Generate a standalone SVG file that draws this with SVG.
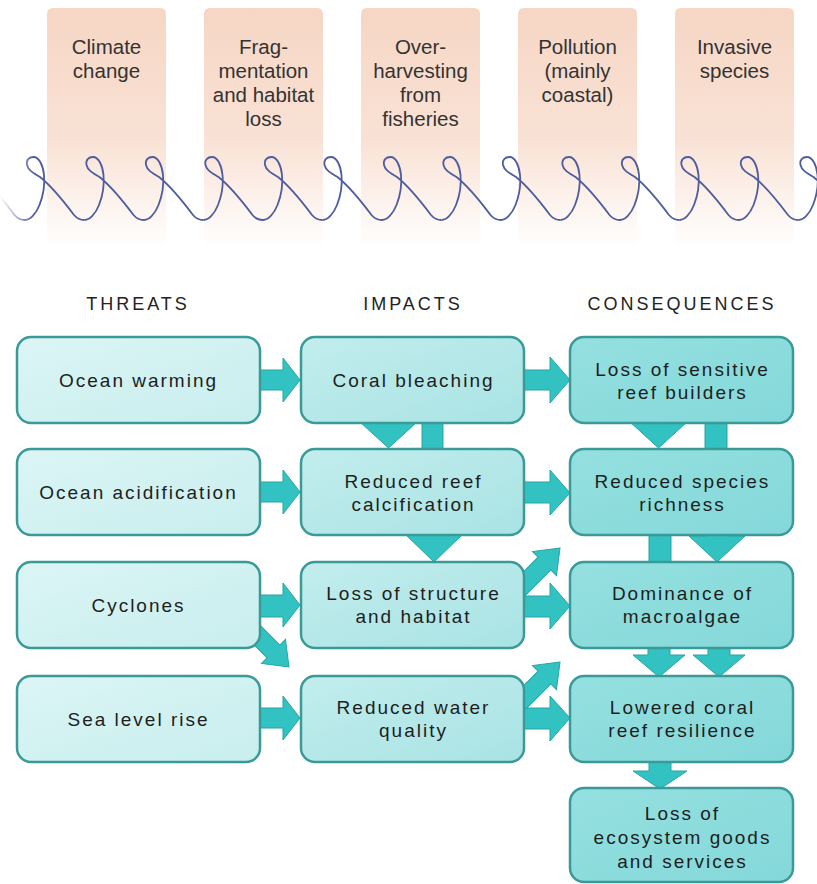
<svg xmlns="http://www.w3.org/2000/svg" xmlns:xlink="http://www.w3.org/1999/xlink" width="817" height="884" viewBox="0 0 817 884">
<style>
.top{font-family:"Liberation Sans",Arial,sans-serif;font-size:20.5px;fill:#333;text-anchor:middle}
.hdr{font-family:"Liberation Sans",Arial,sans-serif;font-size:18px;letter-spacing:3px;fill:#222;text-anchor:middle}
.t{font-family:"Liberation Sans",Arial,sans-serif;font-size:19px;letter-spacing:2px;fill:#1e1e1e;text-anchor:middle}
.thr{fill:url(#gT);stroke:#3a9a98;stroke-width:2.5}
.imp{fill:url(#gI);stroke:#3a9a98;stroke-width:2.5}
.con{fill:url(#gC);stroke:#3a9a98;stroke-width:2.5}
.arr{fill:#33c2c2;stroke:#27a5a5;stroke-width:1}
.peach{fill:url(#gP)}
</style>
<defs>
<linearGradient id="gP" x1="0" y1="0" x2="0" y2="1">
<stop offset="0" stop-color="#f6d6c4"/>
<stop offset="0.55" stop-color="#f9e2d5"/>
<stop offset="1" stop-color="#ffffff"/>
</linearGradient>
<linearGradient id="gT" x1="0" y1="0" x2="1" y2="1">
<stop offset="0" stop-color="#dcf5f5"/>
<stop offset="1" stop-color="#c8eeee"/>
</linearGradient>
<linearGradient id="gI" x1="0" y1="0" x2="1" y2="1">
<stop offset="0" stop-color="#c2eded"/>
<stop offset="1" stop-color="#a9e3e4"/>
</linearGradient>
<linearGradient id="gC" x1="0" y1="0" x2="1" y2="1">
<stop offset="0" stop-color="#95e0e0"/>
<stop offset="1" stop-color="#84d8d9"/>
</linearGradient>
<linearGradient id="fadeL" x1="0" y1="0" x2="1" y2="0">
<stop offset="0" stop-color="#fff" stop-opacity="1"/>
<stop offset="1" stop-color="#fff" stop-opacity="0"/>
</linearGradient>
<path id="coil" d="M-8,63 C-3,63 3,57 6.5,48 C10,39 12,28 11,18 C10,8 6,0 0.5,0 C-4,0 -7,3 -6,8 C-5,13 0,16 7,20 C17,28 32,46 41,58 C44,61.5 47,63 51.5,63"/>
<polygon id="diag" points="0,0 -22,-17 -22,-9 -62,-9 -62,9 -22,9 -22,17"/>
</defs>

<g id="drivers">
<g id="d-climate"><path class="peach" d="M47,248 V14 Q47,8 53,8 H160 Q166,8 166,14 V248 Z"/>
<text class="top" x="106.5" y="54">Climate<tspan x="106.5" dy="24">change</tspan></text></g>
<g id="d-frag"><path class="peach" d="M204,248 V14 Q204,8 210,8 H317 Q323,8 323,14 V248 Z"/>
<text class="top" x="263.5" y="54">Frag-<tspan x="263.5" dy="24">mentation</tspan><tspan x="263.5" dy="24">and habitat</tspan><tspan x="263.5" dy="24">loss</tspan></text></g>
<g id="d-over"><path class="peach" d="M361,248 V14 Q361,8 367,8 H474 Q480,8 480,14 V248 Z"/>
<text class="top" x="420.5" y="54">Over-<tspan x="420.5" dy="24">harvesting</tspan><tspan x="420.5" dy="24">from</tspan><tspan x="420.5" dy="24">fisheries</tspan></text></g>
<g id="d-poll"><path class="peach" d="M518,248 V14 Q518,8 524,8 H631 Q637,8 637,14 V248 Z"/>
<text class="top" x="577.5" y="54">Pollution<tspan x="577.5" dy="24">(mainly</tspan><tspan x="577.5" dy="24">coastal)</tspan></text></g>
<g id="d-inv"><path class="peach" d="M675,248 V14 Q675,8 681,8 H788 Q794,8 794,14 V248 Z"/>
<text class="top" x="734.5" y="54">Invasive<tspan x="734.5" dy="24">species</tspan></text></g>
</g>

<g id="spring" fill="none" stroke="#4f5c9e" stroke-width="1.8" stroke-linejoin="round">
<use xlink:href="#coil" transform="translate(-26.5,157)"/>
<use xlink:href="#coil" transform="translate(33,157)"/>
<use xlink:href="#coil" transform="translate(92.5,157)"/>
<use xlink:href="#coil" transform="translate(152,157)"/>
<use xlink:href="#coil" transform="translate(211.5,157)"/>
<use xlink:href="#coil" transform="translate(271,157)"/>
<use xlink:href="#coil" transform="translate(330.5,157)"/>
<use xlink:href="#coil" transform="translate(390,157)"/>
<use xlink:href="#coil" transform="translate(449.5,157)"/>
<use xlink:href="#coil" transform="translate(509,157)"/>
<use xlink:href="#coil" transform="translate(568.5,157)"/>
<use xlink:href="#coil" transform="translate(628,157)"/>
<use xlink:href="#coil" transform="translate(687.5,157)"/>
<use xlink:href="#coil" transform="translate(747,157)"/>
<use xlink:href="#coil" transform="translate(806.5,157)"/>
</g>
<rect x="0" y="145" width="34" height="90" fill="url(#fadeL)"/>

<g id="headers">
<text class="hdr" x="138" y="310">THREATS</text>
<text class="hdr" x="413" y="310">IMPACTS</text>
<text class="hdr" x="682" y="310">CONSEQUENCES</text>
</g>

<g id="connectors">
<polygon class="arr" points="258,370 283,370 283,358 300,380 283,402 283,390 258,390"/>
<polygon class="arr" points="258,482 283,482 283,470 300,492 283,514 283,502 258,502"/>
<polygon class="arr" points="258,595 283,595 283,583 300,605 283,627 283,617 258,617"/>
<polygon class="arr" points="258,708 283,708 283,696 300,718 283,740 283,728 258,728"/>
<use xlink:href="#diag" class="arr" transform="translate(289,667) rotate(45)"/>
<polygon class="arr" points="523,370 550,370 550,357 570,380 550,403 550,390 523,390"/>
<polygon class="arr" points="523,482 550,482 550,470 570,493 550,515 550,503 523,503"/>
<polygon class="arr" points="523,596 550,596 550,583 570,606 550,629 550,617 523,617"/>
<polygon class="arr" points="523,708 550,708 550,696 570,718 550,741 550,729 523,729"/>
<use xlink:href="#diag" class="arr" transform="translate(560,548) rotate(-45)"/>
<use xlink:href="#diag" class="arr" transform="translate(560,662) rotate(-45)"/>
<polygon class="arr" points="378,405 399,405 399,422 417,422 388.5,448 360,422 378,422"/>
<rect class="arr" x="422" y="415" width="21" height="40"/>
<polygon class="arr" points="423,518 445,518 445,535 462,535 434,562 406,535 423,535"/>
<polygon class="arr" points="648,405 669,405 669,422 687,422 658.5,448 630,422 648,422"/>
<rect class="arr" x="705" y="415" width="22" height="40"/>
<rect class="arr" x="649" y="528" width="22" height="40"/>
<polygon class="arr" points="706,518 728,518 728,536 745,536 717,562 689,536 706,536"/>
<polygon class="arr" points="648,640 670,640 670,655 685,655 659,677 633,655 648,655"/>
<polygon class="arr" points="708,640 730,640 730,655 745,655 719,677 693,655 708,655"/>
<polygon class="arr" points="649,755 671,755 671,771 687,771 660,789 633,771 649,771"/>
</g>

<g id="threats">
<g id="n-warming"><rect class="thr" x="17" y="337" width="243" height="86" rx="14"/><text class="t" x="138.5" y="387">Ocean warming</text></g>
<g id="n-acid"><rect class="thr" x="17" y="449" width="243" height="86" rx="14"/><text class="t" x="138.5" y="499">Ocean acidification</text></g>
<g id="n-cyclones"><rect class="thr" x="17" y="562" width="243" height="86" rx="14"/><text class="t" x="138.5" y="612">Cyclones</text></g>
<g id="n-sealevel"><rect class="thr" x="17" y="676" width="243" height="86" rx="14"/><text class="t" x="138.5" y="726">Sea level rise</text></g>
</g>
<g id="impacts">
<g id="n-bleach"><rect class="imp" x="301" y="337" width="223" height="86" rx="14"/><text class="t" x="413.5" y="387">Coral bleaching</text></g>
<g id="n-calc"><rect class="imp" x="301" y="449" width="223" height="86" rx="14"/><text class="t" x="413.5" y="488">Reduced reef<tspan x="413.5" dy="23">calcification</tspan></text></g>
<g id="n-struct"><rect class="imp" x="301" y="562" width="223" height="86" rx="14"/><text class="t" x="413.5" y="600">Loss of structure<tspan x="413.5" dy="23">and habitat</tspan></text></g>
<g id="n-water"><rect class="imp" x="301" y="676" width="223" height="86" rx="14"/><text class="t" x="413.5" y="714">Reduced water<tspan x="413.5" dy="23">quality</tspan></text></g>
</g>
<g id="consequences">
<g id="n-sensitive"><rect class="con" x="570" y="337" width="223" height="86" rx="14"/><text class="t" x="682.5" y="376">Loss of sensitive<tspan x="682.5" dy="23">reef builders</tspan></text></g>
<g id="n-richness"><rect class="con" x="570" y="449" width="223" height="86" rx="14"/><text class="t" x="682.5" y="488">Reduced species<tspan x="682.5" dy="23">richness</tspan></text></g>
<g id="n-macro"><rect class="con" x="570" y="562" width="223" height="86" rx="14"/><text class="t" x="682.5" y="600">Dominance of<tspan x="682.5" dy="23">macroalgae</tspan></text></g>
<g id="n-resil"><rect class="con" x="570" y="676" width="223" height="86" rx="14"/><text class="t" x="682.5" y="714">Lowered coral<tspan x="682.5" dy="23">reef resilience</tspan></text></g>
<g id="n-goods"><rect class="con" x="570" y="788" width="223" height="94" rx="14"/><text class="t" x="682.5" y="820">Loss of<tspan x="682.5" dy="24">ecosystem goods</tspan><tspan x="682.5" dy="24">and services</tspan></text></g>
</g>
</svg>
